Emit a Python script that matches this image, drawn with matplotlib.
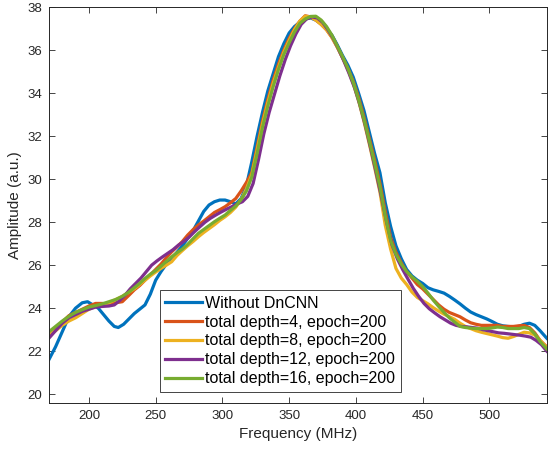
import matplotlib
matplotlib.use("Agg")
import matplotlib.pyplot as plt

plt.rcParams["font.family"] = ["Liberation Sans", "DejaVu Sans"]

# Without DnCNN
freq_raw = [170, 175, 180, 185, 190, 195, 199, 203, 207, 211, 215, 219, 222, 226, 230, 234, 238,
            242, 246, 250, 254, 258, 262, 266, 270, 274, 278, 282, 286, 290, 294, 298, 302, 306,
            310, 314, 318, 322, 326, 330, 334, 338, 342, 346, 350, 354, 358, 362, 366, 370, 374,
            378, 382, 386, 390, 394, 398, 402, 406, 410, 414, 418, 422, 426, 430, 434, 438, 442,
            446, 450, 454, 458, 462, 466, 470, 474, 478, 482, 486, 490, 494, 498, 502, 506, 510,
            514, 518, 522, 526, 530, 534, 538, 543]
amp_raw = [21.6, 22.2, 22.9, 23.6, 24.0, 24.25, 24.3, 24.15, 24.0, 23.7, 23.4, 23.15, 23.1, 23.25,
           23.5, 23.75, 23.95, 24.15, 24.65, 25.3, 25.7, 26.05, 26.3, 26.6, 26.9, 27.25, 27.6,
           28.05, 28.5, 28.8, 28.95, 29.03, 29.03, 28.95, 28.85, 29.1, 29.7, 30.8, 32.0, 33.1,
           34.1, 34.9, 35.7, 36.3, 36.8, 37.1, 37.3, 37.45, 37.5, 37.4, 37.25, 37.0, 36.7,
           36.25, 35.75, 35.3, 34.75, 34.0, 33.2, 32.2, 31.2, 30.3, 28.9, 27.8, 26.9, 26.3,
           25.8, 25.5, 25.3, 25.15, 24.95, 24.85, 24.78, 24.7, 24.55, 24.38, 24.2, 24.0, 23.82,
           23.7, 23.6, 23.5, 23.38, 23.25, 23.18, 23.15, 23.13, 23.15, 23.25, 23.3, 23.2, 22.95,
           22.6]

# shared grid for depth 4, 8, 16
freq_dn = [170, 175, 180, 185, 190, 195, 200, 205, 210, 215, 220, 225, 230, 234, 238, 242, 246,
           250, 254, 258, 262, 266, 270, 274, 278, 282, 286, 290, 294, 298, 302, 306, 310, 314,
           318, 322, 326, 330, 334, 338, 342, 346, 350, 354, 358, 362, 366, 370, 374, 378, 382,
           386, 390, 394, 398, 402, 406, 410, 414, 418, 422, 426, 430, 434, 438, 442, 446, 450,
           454, 458, 462, 466, 470, 474, 478, 482, 486, 490, 494, 498, 502, 506, 510, 514, 518,
           522, 526, 530, 534, 538, 543]
amp_d4 = [22.7, 23.0, 23.35, 23.65, 23.8, 23.95, 24.1, 24.22, 24.22, 24.2, 24.25, 24.3, 24.6,
          24.85, 25.05, 25.3, 25.55, 25.8, 26.05, 26.35, 26.62, 26.85, 27.1, 27.4, 27.65, 27.87,
          28.05, 28.25, 28.45, 28.58, 28.72, 28.9, 29.1, 29.45, 29.85, 30.3, 31.5, 32.7, 33.7,
          34.6, 35.35, 36.0, 36.55, 37.0, 37.35, 37.6, 37.55, 37.4, 37.2, 36.95, 36.6, 36.15,
          35.65, 35.15, 34.55, 33.8, 32.9, 31.9, 30.9, 29.8, 28.5, 27.3, 26.6, 26.1, 25.7, 25.4,
          25.1, 24.9, 24.65, 24.4, 24.15, 23.95, 23.8, 23.7, 23.6, 23.45, 23.32, 23.25, 23.2,
          23.2, 23.2, 23.2, 23.15, 23.15, 23.15, 23.18, 23.2, 23.1, 22.85, 22.5, 22.2]
amp_d8 = [22.75, 22.95, 23.2, 23.4, 23.55, 23.75, 23.95, 24.07, 24.15, 24.25, 24.4, 24.55, 24.75,
          24.9, 25.1, 25.3, 25.5, 25.68, 25.85, 26.0, 26.16, 26.45, 26.68, 26.9, 27.1, 27.32,
          27.52, 27.7, 27.88, 28.08, 28.25, 28.45, 28.7, 29.05, 29.55, 30.2, 31.35, 32.55, 33.55,
          34.45, 35.2, 35.9, 36.45, 36.95, 37.35, 37.58, 37.55, 37.4, 37.2, 36.95, 36.6, 36.15,
          35.65, 35.1, 34.45, 33.65, 32.7, 31.65, 30.55, 29.4, 27.85, 26.75, 25.85, 25.4, 25.1,
          24.75, 24.5, 24.35, 24.2, 24.02, 23.86, 23.72, 23.6, 23.48, 23.3, 23.15, 23.05, 22.95,
          22.88, 22.82, 22.76, 22.7, 22.63, 22.6, 22.68, 22.78, 22.88, 22.85, 22.75, 22.5, 22.15]
amp_d16 = [22.9, 23.15, 23.4, 23.62, 23.8, 23.93, 24.05, 24.12, 24.2, 24.3, 24.4, 24.55, 24.75,
           24.95, 25.15, 25.38, 25.58, 25.75, 25.95, 26.18, 26.39, 26.58, 26.75, 26.97, 27.23,
           27.48, 27.66, 27.84, 28.02, 28.18, 28.33, 28.55, 28.75, 29.05, 29.45, 30.1, 31.2, 32.4,
           33.4, 34.3, 35.1, 35.8, 36.35, 36.85, 37.25, 37.45, 37.57, 37.58, 37.4, 37.1, 36.7,
           36.2, 35.7, 35.15, 34.5, 33.7, 32.8, 31.8, 30.75, 29.65, 28.3, 27.15, 26.5, 26.05, 25.7,
           25.45, 25.25, 25.0, 24.7, 24.37, 24.08, 23.8, 23.55, 23.35, 23.15, 23.1, 23.07, 23.05,
           23.05, 23.05, 23.08, 23.12, 23.1, 23.05, 23.05, 23.05, 23.1, 23.05, 22.8, 22.45, 22.1]

# depth 12 was read on its own grid
freq_d12 = [170, 175, 180, 185, 190, 195, 200, 205, 210, 215, 219, 223, 227, 231, 235, 239, 243,
            247, 251, 255, 259, 263, 267, 271, 275, 279, 283, 287, 291, 295, 299, 303, 307, 311,
            315, 319, 323, 327, 331, 335, 339, 343, 347, 351, 355, 359, 363, 367, 371, 375, 379,
            383, 387, 391, 395, 399, 403, 407, 411, 415, 419, 423, 427, 431, 435, 439, 443, 447,
            451, 455, 459, 463, 467, 471, 475, 479, 483, 487, 491, 495, 499, 503, 507, 511, 515,
            519, 523, 527, 531, 535, 539, 543]
amp_d12 = [22.6, 22.95, 23.3, 23.55, 23.7, 23.85, 23.95, 24.05, 24.08, 24.1, 24.15, 24.35, 24.6,
           24.9, 25.15, 25.4, 25.7, 26.0, 26.2, 26.38, 26.55, 26.72, 26.93, 27.1, 27.3, 27.55,
           27.78, 28.0, 28.18, 28.33, 28.47, 28.6, 28.72, 28.85, 28.95, 29.2, 29.8, 30.9, 32.1,
           33.1, 33.95, 34.8, 35.55, 36.2, 36.75, 37.2, 37.45, 37.55, 37.5, 37.3, 36.95, 36.55,
           36.05, 35.5, 34.9, 34.25, 33.45, 32.5, 31.45, 30.35, 29.2, 28.0, 26.95, 26.3, 25.8,
           25.35, 24.92, 24.55, 24.22, 23.97, 23.78, 23.6, 23.45, 23.3, 23.2, 23.15, 23.13, 23.1,
           23.07, 23.0, 22.95, 22.9, 22.85, 22.83, 22.8, 22.77, 22.74, 22.7, 22.65, 22.5, 22.3,
           22.0]

series = [
    (freq_raw, amp_raw, "Without DnCNN", "#0072BD"),
    (freq_dn, amp_d4, "total depth=4, epoch=200", "#D95319"),
    (freq_dn, amp_d8, "total depth=8, epoch=200", "#EDB120"),
    (freq_d12, amp_d12, "total depth=12, epoch=200", "#7E2F8E"),
    (freq_dn, amp_d16, "total depth=16, epoch=200", "#77AC30"),
]

x_ticks = [200, 250, 300, 350, 400, 450, 500]
y_ticks = [20, 22, 24, 26, 28, 30, 32, 34, 36, 38]

fig = plt.figure(figsize=(5.49, 4.5), dpi=100)
ax = fig.add_axes([0.089, 0.105, 0.907, 0.879])

for f, a, label, color in series:
    ax.plot(f, a, color=color, linewidth=2.3, label=label)

ax.set_xlim(170, 543)
ax.set_ylim(19.6, 38)
ax.set_xticks(x_ticks)
ax.set_yticks(y_ticks)

text_color = "#262626"
for side in ["left", "bottom", "top", "right"]:
    ax.spines[side].set_color(text_color)
    ax.spines[side].set_linewidth(0.7)
ax.tick_params(direction="in", length=4, width=0.6, top=True, right=True,
               labelsize=9.5, colors=text_color, pad=5)

ax.set_xlabel("Frequency (MHz)", fontsize=11, color=text_color)
ax.set_ylabel("Amplitude (a.u.)", fontsize=11, color=text_color)

leg = ax.legend(loc="lower left", bbox_to_anchor=(0.223, 0.027), borderaxespad=0,
                fontsize=11.5, handlelength=2.3, handletextpad=0.2, labelspacing=0.25,
                borderpad=0.35, fancybox=False, framealpha=1)
leg.get_frame().set_edgecolor(text_color)
leg.get_frame().set_linewidth(0.6)

fig.savefig("out.png", dpi=100)
